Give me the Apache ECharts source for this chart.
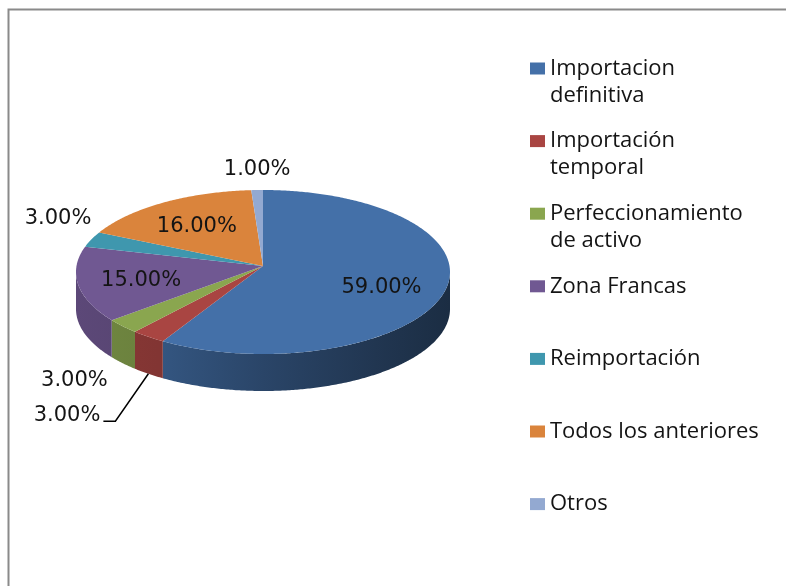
<!DOCTYPE html>
<html><head><meta charset="utf-8">
<script src="https://cdn.jsdelivr.net/npm/echarts@6/dist/echarts.min.js"></script>
<style>html,body{margin:0;padding:0;background:#fff}#c{width:786px;height:586px}</style>
</head><body><div id="c"></div>
<script>
// ---- data ----
const categories = ['Importacion definitiva','Importación temporal','Perfeccionamiento de activo','Zona Francas','Reimportación','Todos los anteriores','Otros'];
const legendLabels = ['Importacion\ndefinitiva','Importación\ntemporal','Perfeccionamiento\nde activo','Zona Francas','Reimportación','Todos los anteriores','Otros'];
const values = [59, 3, 3, 15, 3, 16, 1];
const colors = ['#4470A8','#A94542','#8AA64F','#705892','#3F97AE','#DA843C','#93A9D1'];

// ---- styling / geometry ----
const CX = 263, CY = 272, RX = 187, RY = 82, DEPTH = 37, VDY = -6;
const LABEL_FONT_SIZE = 21, LABEL_FONT = 'DejaVu Sans', LABEL_H = 15;
const TAU = Math.PI * 2;
const total = values.reduce((a, b) => a + b, 0);

function edgePt(t) { return [CX + RX * Math.sin(t), CY - RY * Math.cos(t)]; }
function shade(hex, f) {
  const n = parseInt(hex.slice(1), 16);
  const r = Math.round(((n >> 16) & 255) * f), g = Math.round(((n >> 8) & 255) * f), b = Math.round((n & 255) * f);
  return 'rgb(' + r + ',' + g + ',' + b + ')';
}
const measureCtx = document.createElement('canvas').getContext('2d');
measureCtx.font = LABEL_FONT_SIZE + 'px "' + LABEL_FONT + '"';
function textW(s) { return measureCtx.measureText(s).width; }

// slice angles from values
let cum = 0;
const slices = values.map((v, i) => {
  const a0 = cum / total * TAU; cum += v; const a1 = cum / total * TAU;
  return { i, v, a0, a1, mid: (a0 + a1) / 2 };
});

// label layout
const labels = slices.map(s => {
  const share = s.v / total;
  const text = (share * 100).toFixed(2) + '%';
  const w = textW(text), h = LABEL_H;
  const sn = Math.sin(s.mid), cs = Math.cos(s.mid);
  if (share >= 0.1) {
    const k = 0.66;
    return { text, cx: CX + k * RX * sn, cy: CY - k * RY * cs };
  }
  let [ex, ey] = edgePt(s.mid);
  if (cs < 0) ey += DEPTH;
  let left;
  const dx = cs < 0 ? sn * 20 : 0;
  if (sn < -0.2) left = ex + dx - w;
  else if (sn > 0.2) left = ex + dx;
  else left = ex - w / 2;
  const top = cs > 0 ? ey - 13 - h : ey + 10;
  return { text, box: { x: left, y: top, w, h }, anchor: [ex, ey], outside: true };
});
// resolve overlaps of outside labels (later slices placed first)
const placed = [];
for (let i = labels.length - 1; i >= 0; i--) {
  const L = labels[i];
  if (!L.outside) continue;
  const b = L.box;
  const hits = placed.filter(p => !(b.x + b.w < p.x || p.x + p.w < b.x || b.y + b.h < p.y || p.y + p.h < b.y));
  if (hits.length) {
    const top = Math.max(...hits.map(p => p.y + p.h)) + 20;
    const right = L.anchor[0] - 48;
    L.box = { x: right - b.w, y: top, w: b.w, h: b.h };
    L.leader = [L.anchor, [right + 15, top + 13], [right + 3, top + 13]];
  }
  L.cx = L.box.x + L.box.w / 2; L.cy = L.box.y + L.box.h / 2;
  placed.push(L.box);
}

const wallStops = [[0, 0.82], [0.22, 0.77], [0.5, 0.62], [0.8, 0.48], [1, 0.40]];

function renderItem(params, api) {
  const s = slices[params.dataIndex];
  const col = colors[params.dataIndex];
  const children = [];
  // side wall (front half only)
  const w0 = Math.max(s.a0, Math.PI / 2), w1 = Math.min(s.a1, Math.PI * 1.5);
  if (w1 > w0) {
    const topPts = [], botPts = [];
    const n = Math.max(2, Math.ceil((w1 - w0) / 0.01));
    for (let j = 0; j <= n; j++) {
      const p = edgePt(w0 + (w1 - w0) * j / n);
      topPts.push(p); botPts.push([p[0], p[1] + DEPTH]);
    }
    children.push({
      type: 'polygon',
      shape: { points: topPts.concat(botPts.reverse()) },
      style: {
        fill: {
          type: 'linear', x: CX - RX, y: 0, x2: CX + RX, y2: 0, global: true,
          colorStops: wallStops.map(st => ({ offset: st[0], color: shade(col, st[1]) }))
        }
      }
    });
  }
  // top face
  const pts = [[CX, CY + VDY]];
  const n = Math.max(2, Math.ceil((s.a1 - s.a0) / 0.01));
  for (let j = 0; j <= n; j++) pts.push(edgePt(s.a0 + (s.a1 - s.a0) * j / n));
  children.push({ type: 'polygon', shape: { points: pts }, style: { fill: col } });
  // label
  const L = labels[params.dataIndex];
  if (L.leader) {
    children.push({ type: 'polyline', z2: 20, shape: { points: L.leader }, style: { stroke: '#000', lineWidth: 1.5, fill: null } });
  }
  children.push({
    type: 'text', z2: 30, x: L.cx, y: L.cy,
    style: { text: L.text, fontFamily: LABEL_FONT, fontSize: LABEL_FONT_SIZE, fill: '#141414', align: 'center', verticalAlign: 'middle' }
  });
  return { type: 'group', children };
}

const chart = echarts.init(document.getElementById('c'), null, { renderer: 'canvas' });
chart.setOption({
  animation: false,
  backgroundColor: '#fff',
  graphic: [{
    type: 'rect', left: 6, top: 7, z: -10,
    shape: { x: 0, y: 0, width: 800, height: 600 },
    style: { fill: 'none', stroke: '#8a8a8a', lineWidth: 2 }
  }],
  legend: {
    orient: 'vertical', left: 530, top: 28, padding: 0,
    itemGap: -8.4, itemWidth: 15, itemHeight: 12, icon: 'rect', selectedMode: false,
    data: categories,
    formatter: name => {
      const lines = legendLabels[categories.indexOf(name)].split('\n');
      return '\n' + lines.join('\n') + (lines.length === 1 ? '\n ' : '');
    },
    textStyle: { fontFamily: 'Open Sans', fontSize: 22, lineHeight: 27, color: '#141414' }
  },
  series: [
    {
      type: 'pie', name: 'legendSource', radius: 0, silent: true,
      label: { show: false }, labelLine: { show: false },
      data: categories.map((c, i) => ({ name: c, value: values[i], itemStyle: { color: colors[i] } }))
    },
    {
      type: 'custom', name: 'pie3d', coordinateSystem: 'none', silent: true,
      renderItem,
      data: categories.map((c, i) => ({ name: c, value: values[i] }))
    }
  ]
});
</script>
</body></html>
